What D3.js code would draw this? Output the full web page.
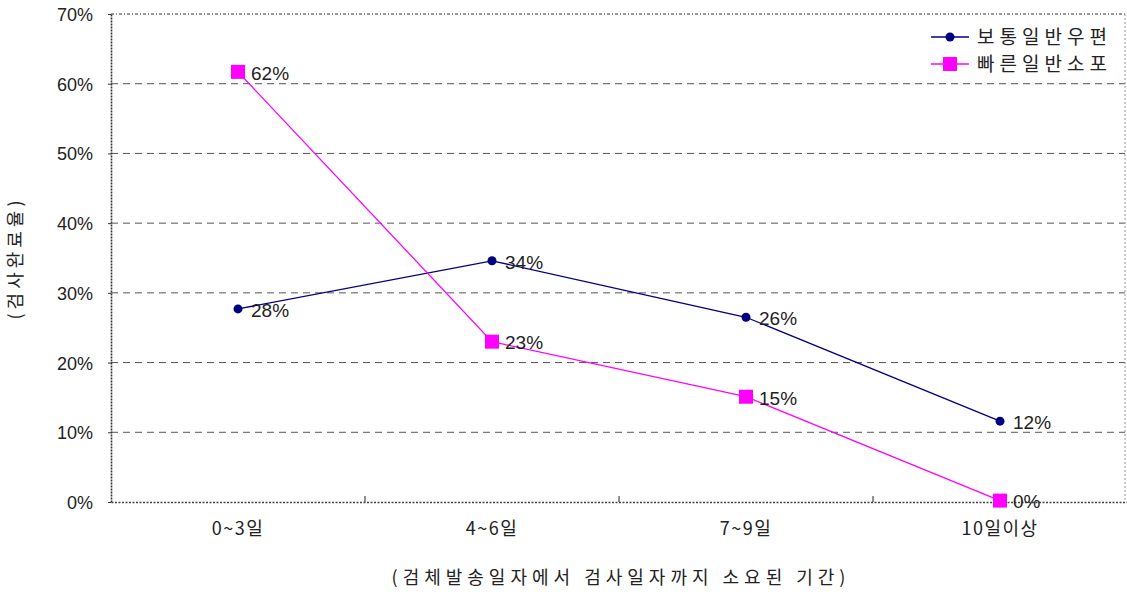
<!DOCTYPE html>
<html>
<head>
<meta charset="utf-8">
<script src="https://cdn.jsdelivr.net/npm/d3@7"></script>
<style>
  body { margin: 0; background: #fff; }
  svg { display: block; font-family: "Liberation Sans", "Noto Sans CJK KR", sans-serif; }
</style>
</head>
<body>
<svg width="1127" height="592"></svg>
<script>
const categories = ["0~3일", "4~6일", "7~9일", "10일이상"];
const normalMail = [27.7, 34.6, 26.5, 11.6];
const normalLabels = ["28%", "34%", "26%", "12%"];
const fastMail = [61.7, 23.0, 15.1, 0.2];
const fastLabels = ["62%", "23%", "15%", "0%"];
const yTicks = [0, 10, 20, 30, 40, 50, 60, 70];

const series = [
  { name: "보통일반우편", values: normalMail, labels: normalLabels, color: "#000080", marker: "circle" },
  { name: "빠른일반소포", values: fastMail, labels: fastLabels, color: "#ff00ff", marker: "square" }
];

const svg = d3.select("svg"),
    plotLeft = 111, plotRight = 1127, plotTop = 14, plotBottom = 502;

const x = d3.scaleBand().domain(categories).range([plotLeft, plotRight]);
const y = d3.scaleLinear().domain([0, 70]).range([plotBottom, plotTop]);

// grid lines
svg.append("g").selectAll("line")
  .data(yTicks.filter(d => d > 0 && d < 70))
  .enter().append("line")
    .attr("x1", plotLeft).attr("x2", plotRight - 2)
    .attr("y1", d => y(d)).attr("y2", d => y(d))
    .attr("stroke", "#555").attr("stroke-dasharray", "7,5");

// frame: top and right dotted
svg.append("line").attr("x1", plotLeft).attr("x2", plotRight - 2).attr("y1", plotTop).attr("y2", plotTop)
  .attr("stroke", "#777").attr("stroke-width", 1.3).attr("stroke-dasharray", "3,2,1,2");
svg.append("line").attr("x1", plotRight - 2).attr("x2", plotRight - 2).attr("y1", plotTop).attr("y2", plotBottom)
  .attr("stroke", "#999").attr("stroke-width", 1).attr("stroke-dasharray", "2,2");

// y axis
const yAxis = svg.append("g")
  .attr("transform", "translate(" + plotLeft + ",0)")
  .call(d3.axisLeft(y).tickValues(yTicks).tickFormat(d => d + "%").tickSize(3).tickSizeOuter(0));
yAxis.select(".domain").attr("stroke", "#333").attr("stroke-width", 1.6).attr("stroke-dasharray", "2,1");
yAxis.selectAll(".tick line").attr("stroke", "#333");
yAxis.selectAll("text").attr("font-size", 18).attr("fill", "#222").attr("x", -18).attr("dy", "0.36em");

// x axis
const xAxis = svg.append("g")
  .attr("transform", "translate(0," + plotBottom + ")")
  .call(d3.axisBottom(x).tickSize(0).tickSizeOuter(0));
xAxis.select(".domain").attr("stroke", "#444").attr("stroke-width", 1.6).attr("stroke-dasharray", "2,1.5");
xAxis.selectAll("text").attr("font-size", 18).attr("fill", "#222").attr("y", 20)
  .attr("font-family", "'Noto Sans CJK KR', sans-serif").attr("letter-spacing", 1.5);

// band boundary ticks
svg.append("g").selectAll("line")
  .data(categories.slice(1))
  .enter().append("line")
    .attr("x1", d => x(d)).attr("x2", d => x(d))
    .attr("y1", plotBottom).attr("y2", plotBottom - 6)
    .attr("stroke", "#222");

const line = d3.line()
  .x((d, i) => x(categories[i]) + x.bandwidth() / 2)
  .y(d => y(d));

series.forEach(s => {
  const g = svg.append("g");
  g.append("path").datum(s.values)
    .attr("d", line).attr("fill", "none").attr("stroke", s.color).attr("stroke-width", 1.3);
  s.values.forEach((v, i) => {
    const cx = x(categories[i]) + x.bandwidth() / 2, cy = y(v);
    if (s.marker === "circle") {
      g.append("circle").attr("cx", cx).attr("cy", cy).attr("r", 4.5).attr("fill", s.color);
    } else {
      g.append("rect").attr("x", cx - 7).attr("y", cy - 7).attr("width", 14).attr("height", 14).attr("fill", s.color);
    }
    g.append("text")
      .attr("x", cx + 13).attr("y", cy + 1).attr("dy", "0.36em")
      .attr("font-size", 19).attr("fill", "#222")
      .text(s.labels[i]);
  });
});

// legend
const legend = svg.append("g");
series.forEach((s, i) => {
  const ly = 37 + i * 27;
  legend.append("line").attr("x1", 931).attr("x2", 969).attr("y1", ly).attr("y2", ly)
    .attr("stroke", s.color).attr("stroke-width", 1.3);
  if (s.marker === "circle") {
    legend.append("circle").attr("cx", 950).attr("cy", ly).attr("r", 4.5).attr("fill", s.color);
  } else {
    legend.append("rect").attr("x", 943).attr("y", ly - 7).attr("width", 14).attr("height", 14).attr("fill", s.color);
  }
  legend.append("text").attr("x", 977).attr("y", ly).attr("dy", "0.36em")
    .attr("font-size", 19).attr("fill", "#222").attr("letter-spacing", 5)
    .attr("font-family", "'Noto Sans CJK KR', sans-serif")
    .text(s.name);
});

// axis titles
svg.append("text")
  .attr("transform", "translate(22,258) rotate(-90)")
  .attr("text-anchor", "middle").attr("font-size", 18).attr("fill", "#222")
  .attr("font-family", "'Noto Sans CJK KR', sans-serif").attr("letter-spacing", 4)
  .text("(검사완료율)");

svg.append("text")
  .attr("x", 621).attr("y", 578).attr("dy", "0.36em")
  .attr("text-anchor", "middle").attr("font-size", 18).attr("fill", "#222")
  .attr("font-family", "'Noto Sans CJK KR', sans-serif").attr("letter-spacing", 5)
  .text("(검체발송일자에서 검사일자까지 소요된 기간)");
</script>
</body>
</html>
